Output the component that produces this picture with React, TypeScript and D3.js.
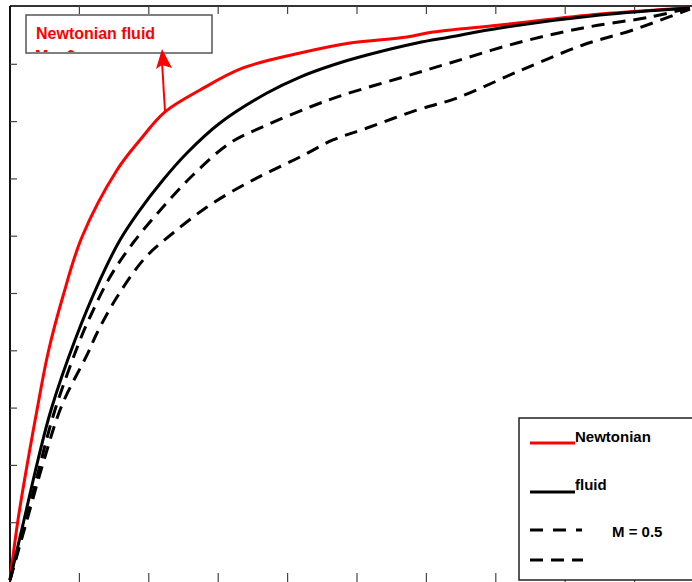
import React from "react";
import * as d3 from "d3";

const W = 692;
const H = 582;

// Data (x, y)
const newtonianX = [0, 0.0115, 0.0259, 0.0389, 0.0548, 0.0764, 0.1037, 0.1542, 0.1873, 0.2233, 0.2738, 0.3357, 0.4179, 0.4899, 0.572, 0.6095, 0.7061, 0.8501, 0.9798];
const newtonianY = [0, 0.1047, 0.2094, 0.2967, 0.3962, 0.4956, 0.5986, 0.7155, 0.7679, 0.8168, 0.8551, 0.8936, 0.9197, 0.9372, 0.9476, 0.9564, 0.9686, 0.9878, 0.9983];

const fluidX = [0, 0.0202, 0.0403, 0.0591, 0.0937, 0.1297, 0.1585, 0.185, 0.2205, 0.255, 0.3026, 0.3703, 0.4179, 0.4654, 0.5144, 0.5865, 0.634, 0.7061, 0.8501, 0.9798];
const fluidY = [0, 0.1047, 0.2094, 0.2967, 0.4188, 0.5236, 0.5934, 0.6422, 0.6981, 0.7452, 0.7976, 0.8499, 0.8778, 0.8988, 0.9162, 0.9372, 0.9476, 0.9634, 0.986, 0.9983];

const m05X = [0, 0.0231, 0.0432, 0.0648, 0.1009, 0.1153, 0.1441, 0.1772, 0.2205, 0.2637, 0.317, 0.3703, 0.4323, 0.4798, 0.562, 0.634, 0.7305, 0.8256, 0.9222, 0.9798];
const m05Y = [0, 0.1047, 0.2007, 0.2967, 0.4188, 0.459, 0.5288, 0.5881, 0.651, 0.7068, 0.7627, 0.7941, 0.8255, 0.8464, 0.8761, 0.9023, 0.9372, 0.9634, 0.9825, 0.9983];

const m2X = [0, 0.0245, 0.049, 0.0749, 0.1124, 0.1254, 0.1542, 0.1945, 0.2349, 0.2839, 0.3314, 0.3703, 0.4179, 0.4654, 0.5144, 0.5865, 0.6441, 0.7305, 0.8256, 0.8977, 0.9798];
const m2Y = [0, 0.1047, 0.2094, 0.3054, 0.3962, 0.4311, 0.4939, 0.5620, 0.6056, 0.651, 0.6859, 0.7103, 0.7382, 0.7679, 0.7888, 0.8202, 0.8412, 0.8866, 0.9337, 0.9599, 0.9965];

const xTicks = [0.1, 0.2, 0.3, 0.4, 0.5, 0.6, 0.7, 0.8, 0.9];
const yTicks = [0.1, 0.2, 0.3, 0.4, 0.5, 0.6, 0.7, 0.8, 0.9];

const legendLabels = ["Newtonian", "fluid", "M = 0.5", ""];
const annotationLines = ["Newtonian fluid", "M = 0"];

const FONT = "'Liberation Sans', Arial, sans-serif";

export default function App() {
  const x = d3.scaleLinear().domain([0, 1]).range([10, 704]);
  const y = d3.scaleLinear().domain([0, 1]).range([580, 7]);

  const line = d3
    .line<[number, number]>()
    .x((d) => x(d[0]))
    .y((d) => y(d[1]))
    .curve(d3.curveCatmullRom.alpha(0.5));

  const zip = (a: number[], b: number[]) => a.map((v, i) => [v, b[i]] as [number, number]);

  const series = [
    { pts: zip(newtonianX, newtonianY), color: "#ff0000", dash: undefined },
    { pts: zip(fluidX, fluidY), color: "#000000", dash: undefined },
    { pts: zip(m05X, m05Y), color: "#000000", dash: "13,8" },
    { pts: zip(m2X, m2Y), color: "#000000", dash: "13,8" },
  ];

  return (
    <svg
      width={W}
      height={H}
      style={{ position: "absolute", left: 0, top: 0, background: "#fff" }}
      fontFamily={FONT}
    >
      <defs>
        <clipPath id="annClip">
          <rect x={27} y={16} width={184} height={36} />
        </clipPath>
      </defs>
      <rect x={0} y={0} width={W} height={H} fill="#fff" />

      {/* axes frame */}
      <line x1={10} y1={6} x2={W} y2={6} stroke="#333" strokeWidth={2} />
      <line x1={10} y1={6} x2={10} y2={H} stroke="#111" strokeWidth={2} />

      {/* left ticks */}
      {yTicks.map((t) => (
        <line key={"yl" + t} x1={10} x2={17} y1={y(t)} y2={y(t)} stroke="#444" strokeWidth={1.2} />
      ))}
      {/* top ticks */}
      {xTicks.map((t) => (
        <line key={"xt" + t} x1={x(t)} x2={x(t)} y1={6} y2={14} stroke="#444" strokeWidth={1.2} />
      ))}
      {/* bottom ticks */}
      {xTicks.map((t) => (
        <line key={"xb" + t} x1={x(t)} x2={x(t)} y1={573} y2={H} stroke="#444" strokeWidth={1.2} />
      ))}

      {/* curves */}
      {series.map((s, i) => (
        <path
          key={i}
          d={line(s.pts) || ""}
          fill="none"
          stroke={s.color}
          strokeWidth={3}
          strokeDasharray={s.dash}
        />
      ))}

      {/* annotation box */}
      <rect x={26} y={15} width={186} height={38} fill="#fff" stroke="#555" strokeWidth={1.5} />
      <g clipPath="url(#annClip)">
        <text x={36} y={39} fill="#ff0000" fontSize={16} fontWeight="bold">
          {annotationLines[0]}
        </text>
        <text x={35} y={62} fill="#ff0000" fontSize={16} fontWeight="bold">
          {annotationLines[1]}
        </text>
      </g>
      {/* arrow */}
      <line x1={165} y1={111} x2={162} y2={62} stroke="#ff0000" strokeWidth={2} />
      <path d="M162,49 L156,69 L162,65 L172,68 Z" fill="#ff0000" />

      {/* legend */}
      <rect x={519} y={418} width={200} height={162} fill="#fff" stroke="#222" strokeWidth={1.5} />
      <line x1={530} x2={575} y1={443} y2={443} stroke="#ff0000" strokeWidth={3} />
      <text x={575} y={442} fontSize={15} fontWeight="bold" fill="#000">
        {legendLabels[0]}
      </text>
      <line x1={530} x2={575} y1={492} y2={492} stroke="#000" strokeWidth={3} />
      <text x={575} y={490} fontSize={15} fontWeight="bold" fill="#000">
        {legendLabels[1]}
      </text>
      <line x1={530} x2={582} y1={530} y2={530} stroke="#000" strokeWidth={3} strokeDasharray="13,10" />
      <text x={612} y={537} fontSize={15} fontWeight="bold" fill="#000">
        {legendLabels[2]}
      </text>
      <line x1={530} x2={583} y1={560} y2={560} stroke="#000" strokeWidth={3} strokeDasharray="13,8" />
      <text x={612} y={567} fontSize={15} fontWeight="bold" fill="#000">
        {legendLabels[3]}
      </text>
    </svg>
  );
}
